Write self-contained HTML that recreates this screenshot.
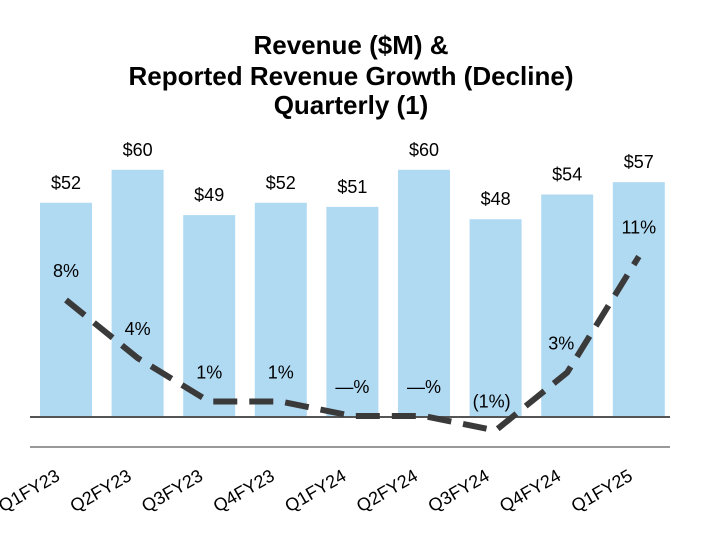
<!DOCTYPE html>
<html><head><meta charset="utf-8"><style>
html,body{margin:0;padding:0;background:#fff;width:702px;height:540px;overflow:hidden}
svg{display:block;font-family:"Liberation Sans",Arial,sans-serif}
</style></head><body>
<svg width="702" height="540" viewBox="0 0 702 540">
<g font-weight="bold" font-size="26" text-anchor="middle" fill="#000">
<text x="351" y="54">Revenue ($M) &amp;</text>
<text x="351" y="85">Reported Revenue Growth (Decline)</text>
<text x="351" y="114">Quarterly (1)</text>
</g>
<g id="bars"></g>
<line x1="30" y1="417" x2="670" y2="417" stroke="#555" stroke-width="2"/>
<line x1="30" y1="447" x2="670" y2="447" stroke="#999" stroke-width="2"/>
<g id="line"></g>
<g id="labels"></g>
</svg>
<script>
const categories=["Q1FY23","Q2FY23","Q3FY23","Q4FY23","Q1FY24","Q2FY24","Q3FY24","Q4FY24","Q1FY25"];
const revenue=[52,60,49,52,51,60,48,54,57];
const revenueLabels=["$52","$60","$49","$52","$51","$60","$48","$54","$57"];
const growth=[8,4,1,1,0,0,-1,3,11];
const growthLabels=["8%","4%","1%","1%","—%","—%","(1%)","3%","11%"];
const NS="http://www.w3.org/2000/svg";
const xC=i=>66+i*71.6;
const yRev=v=>417-v*4.12;
const yG=v=>416-v*14.5;
function mk(t,a,p){const e=document.createElementNS(NS,t);for(const k in a)e.setAttribute(k,a[k]);p.appendChild(e);return e;}
const bars=document.getElementById('bars'),line=document.getElementById('line'),labels=document.getElementById('labels');
categories.forEach((c,i)=>{
  const r=mk('rect',{x:xC(i)-26,y:yRev(revenue[i]),width:52,height:417-yRev(revenue[i]),fill:'#b0d9f2'},bars);
  
  
  const t=mk('text',{x:xC(i),y:yRev(revenue[i])-14,'text-anchor':'middle','font-size':18,fill:'#000'},labels);
  t.textContent=revenueLabels[i];
  
  
  const g=mk('text',{x:xC(i)-(i==6?4:(i==7?6:0)),y:yG(growth[i])-23,'text-anchor':'middle','font-size':18,fill:'#000'},labels);
  g.textContent=growthLabels[i];
  
  
  const x=mk('text',{x:0,y:0,'text-anchor':'middle','font-size':18,fill:'#000',transform:`translate(${xC(i)-34},${496}) rotate(-30)`},labels);
  x.textContent=c;
  
  
});
const pts=growth.map((g,i)=>xC(i)+','+yG(g)).join(' ');
const pl=mk('polyline',{points:pts,fill:'none',stroke:'#3a3a3a','stroke-width':6,'stroke-dasharray':'24,12'},line);


</script>
</body></html>
